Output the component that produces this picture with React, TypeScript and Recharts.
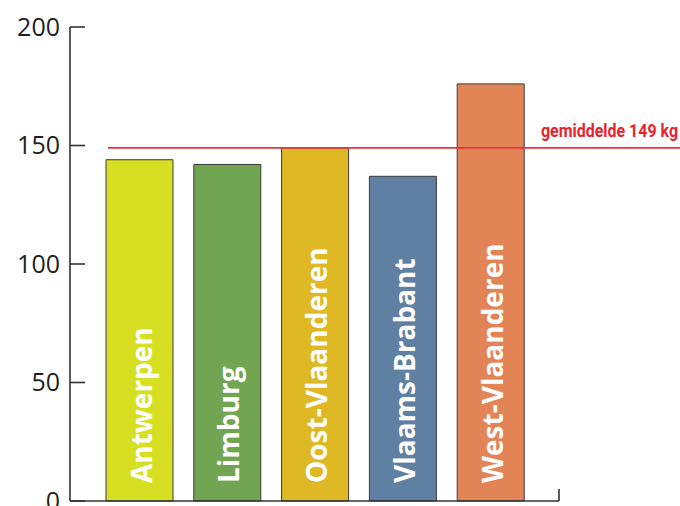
import { BarChart, Bar, XAxis, YAxis, ReferenceLine, LabelList, Cell } from "recharts";

const provincies = ["Antwerpen", "Limburg", "Oost-Vlaanderen", "Vlaams-Brabant", "West-Vlaanderen"];
const kgPerInwoner = [144, 142, 149, 137, 176];
const kleuren = ["#d7df23", "#72a552", "#dfb825", "#5f7fa3", "#e38457"];
const yTicks = [0, 50, 100, 150, 200];
const gemiddelde = 149;
const gemiddeldeLabel = "gemiddelde 149 kg";

const data = provincies.map((naam, i) => ({ naam, waarde: kgPerInwoner[i] }));

const BalkLabel = (props: any) => {
  const { x, y, width, height, value } = props;
  const bx = x + width / 2 + 12;
  const by = y + height - 18;
  return (
    <text
      x={bx}
      y={by}
      transform={`rotate(-90 ${bx} ${by})`}
      fill="#ffffff"
      fontFamily="'Open Sans', sans-serif"
      fontWeight={700}
      fontSize={28}
      textAnchor="start"
    >
      {value}
    </text>
  );
};

const GemiddeldeLijn = (props: any) => {
  const { x1, x2, y1 } = props;
  return (
    <g>
      <line x1={x1 + 38} x2={x2 + 121} y1={y1} y2={y1} stroke="#e8333a" strokeWidth={1.6} />
      <text
        x={x2 + 119}
        y={y1 - 11}
        textAnchor="end"
        fill="#e8222e"
        fontFamily="Roboto, sans-serif"
        fontWeight={700}
        fontSize={18}
        textLength={137}
        lengthAdjust="spacingAndGlyphs"
      >
        {gemiddeldeLabel}
      </text>
    </g>
  );
};

const EindTick = (props: any) => {
  const { x2, y1 } = props;
  return <line x1={x2} x2={x2} y1={y1} y2={y1 - 12} stroke="#333" strokeWidth={1.6} />;
};

export default function App() {
  return (
    <div style={{ position: "fixed", left: 0, top: 0, width: 680, height: 506, overflow: "hidden", background: "#fff" }}>
      <BarChart
        width={680}
        height={530}
        data={data}
        margin={{ top: 27, right: 121, bottom: 19, left: 8 }}
      >
        <XAxis
          dataKey="naam"
          tick={false}
          tickLine={false}
          height={10}
          padding={{ left: 26, right: 24 }}
          axisLine={{ stroke: "#333", strokeWidth: 1.6 }}
        />
        <YAxis
          domain={[0, 200]}
          ticks={yTicks}
          width={62}
          tickSize={-15}
          tickMargin={25}
          axisLine={{ stroke: "#333", strokeWidth: 1.6 }}
          tickLine={{ stroke: "#333", strokeWidth: 1.6 }}
          tick={{ fill: "#231f20", fontSize: 25, fontFamily: "'Open Sans', sans-serif" }}
        />
        <Bar dataKey="waarde" barSize={67} stroke="#3a3a3a" strokeWidth={1} isAnimationActive={false}>
          {data.map((d, i) => (
            <Cell key={d.naam} fill={kleuren[i]} />
          ))}
          <LabelList dataKey="naam" content={BalkLabel} />
        </Bar>
        <ReferenceLine y={0} shape={EindTick} />
        <ReferenceLine y={gemiddelde} shape={GemiddeldeLijn} />
      </BarChart>
    </div>
  );
}
